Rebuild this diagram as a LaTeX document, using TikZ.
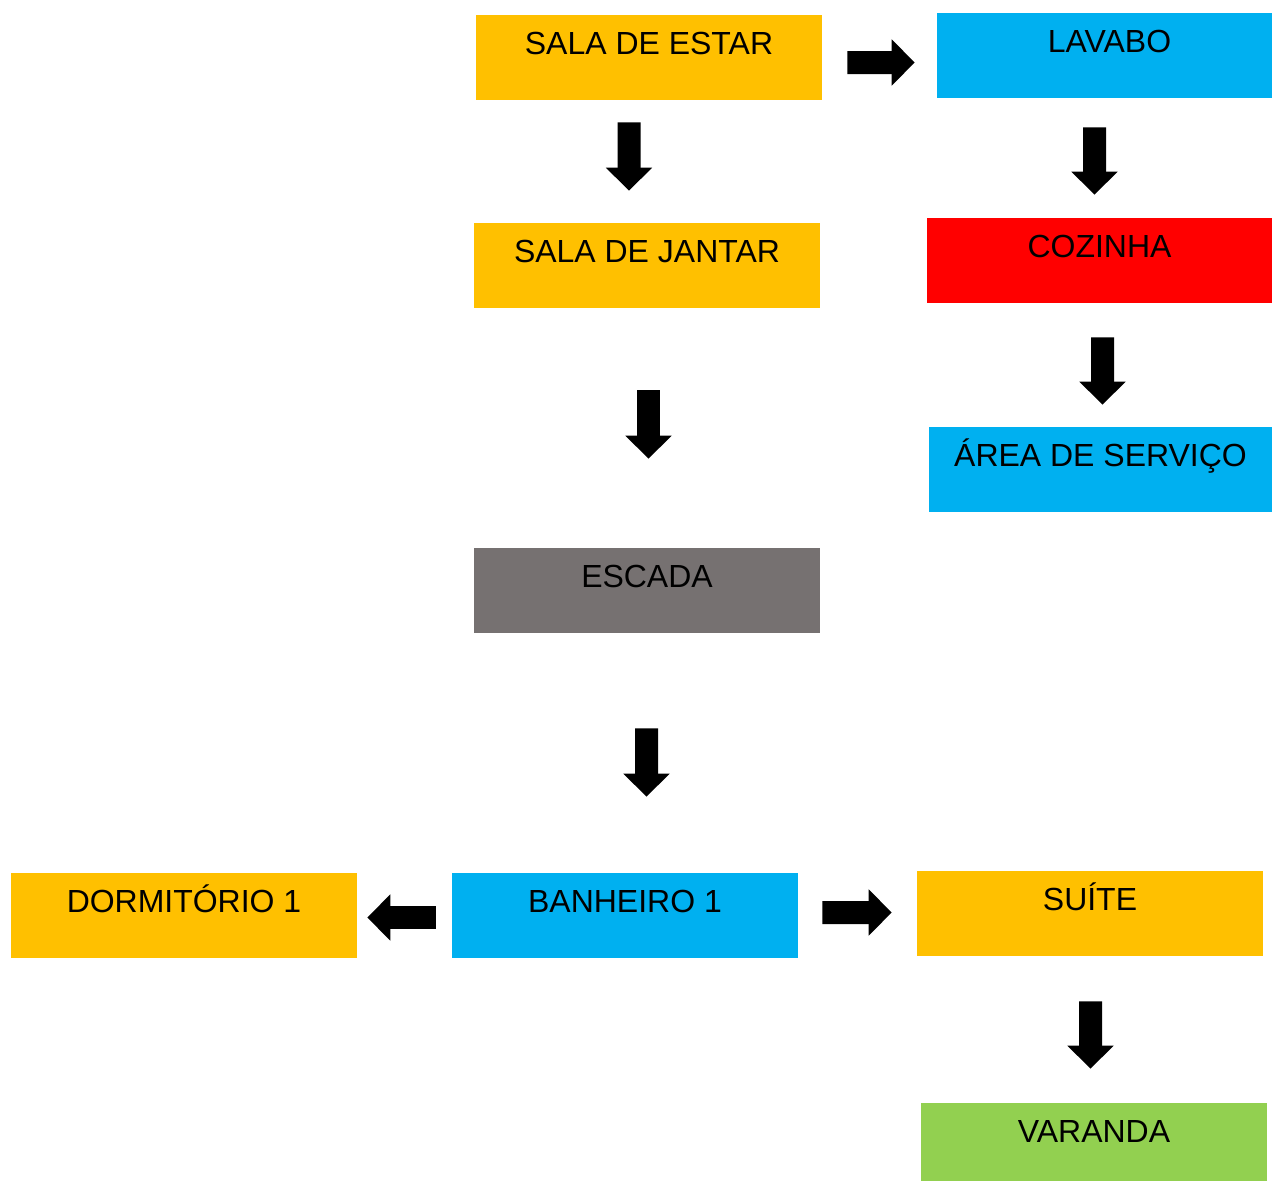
\documentclass[tikz,border=0pt]{standalone}
\usepackage{xcolor}
\usepackage{fontspec}
\setmainfont{Liberation Sans}
\usepackage{tikz}
\usetikzlibrary{positioning, arrows.meta}
\definecolor{roomorange}{HTML}{FFC000}
\definecolor{roomblue}{HTML}{00B0F0}
\definecolor{roomred}{HTML}{FF0000}
\definecolor{roomgray}{HTML}{767171}
\definecolor{roomgreen}{HTML}{92D050}
\tikzset{
    room/.style={rectangle, fill=#1, inner sep=0pt, minimum width=6.92cm,
        text height=0.78cm, text depth=0.92cm,
        font=\fontsize{18.2}{22}\selectfont},
    blockarrow/.style={line width=0.46cm, -{Triangle[width=0.9cm, length=0.46cm]}}
}

\begin{document}
\begin{tikzpicture}[x=0.02cm, y=-0.02cm]
    \useasboundingbox (0,0) rectangle (1272,1181);
    % Ground floor
    \node[room=roomorange] (estar) at (649,57.5) {SALA DE ESTAR};
    \node[room=roomblue, minimum width=6.7cm] (lavabo) at (1104.5,55.5) {\hspace*{0.2cm}LAVABO};
    \node[room=roomorange] (jantar) at (647,265.5) {SALA DE JANTAR};
    \node[room=roomred, minimum width=6.9cm] (cozinha) at (1099.5,260.5) {COZINHA};
    \node[room=roomblue, minimum width=6.86cm] (servico) at (1100.5,469.5) {ÁREA DE SERVIÇO};
    \node[room=roomgray] (escada) at (647,590.5) {ESCADA};
    % Upper floor
    \node[room=roomorange] (dorm) at (184,915.5) {DORMITÓRIO 1};
    \node[room=roomblue] (banheiro) at (625,915.5) {BANHEIRO 1};
    \node[room=roomorange] (suite) at (1090,913.5) {SUÍTE};
    \node[room=roomgreen, text depth=0.78cm] (varanda) at (1094,1142) {VARANDA};
    % Arrows between rooms
    \draw[blockarrow] ([xshift=0.5cm,yshift=-0.1cm]estar.east) -- ([xshift=-0.44cm,yshift=-0.14cm]lavabo.west);
    \draw[blockarrow] ([xshift=-0.4cm,yshift=-0.44cm]estar.south) -- ([xshift=-0.36cm,yshift=0.64cm]jantar.north);
    \draw[blockarrow] ([xshift=-0.2cm,yshift=-0.58cm]lavabo.south) -- ([xshift=-0.1cm,yshift=0.46cm]cozinha.north);
    \draw[blockarrow] ([xshift=0.06cm,yshift=-0.68cm]cozinha.south) -- ([xshift=0.04cm,yshift=0.44cm]servico.north);
    \draw[blockarrow] ([xshift=0.03cm,yshift=-1.64cm]jantar.south) -- ([xshift=0.03cm,yshift=1.78cm]escada.north);
    \draw[blockarrow] ([xshift=-0.01cm,yshift=-1.9cm]escada.south) -- ([xshift=0.43cm,yshift=1.52cm]banheiro.north);
    \draw[blockarrow] ([xshift=-0.32cm,yshift=-0.04cm]banheiro.west) -- ([xshift=0.2cm,yshift=-0.04cm]dorm.east);
    \draw[blockarrow] ([xshift=0.48cm,yshift=0.06cm]banheiro.east) -- ([xshift=-0.5cm,yshift=0.02cm]suite.west);
    \draw[blockarrow] ([xshift=0.01cm,yshift=-0.9cm]suite.south) -- ([xshift=-0.07cm,yshift=0.68cm]varanda.north);
\end{tikzpicture}
\end{document}
